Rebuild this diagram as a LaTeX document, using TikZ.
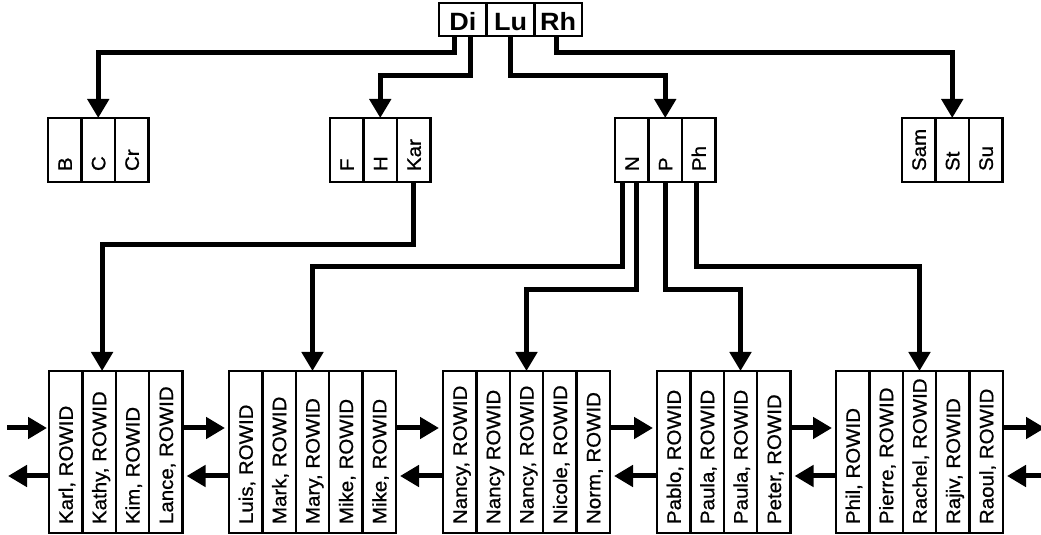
\documentclass[tikz,border=0pt]{standalone}
\usepackage{fontspec}
\usepackage{graphicx}
\setmainfont{Liberation Sans}
\newfontfamily\cellfont{Liberation Sans}[FakeStretch=1.05, FakeBold=0.8]
\newfontfamily\rootfont{Liberation Sans}[FakeStretch=1.08]
\usetikzlibrary{arrows.meta}

% vertical cell text: reads bottom to top, starts at the bottom of a box of length #1
\newcommand\vlabel[2]{\rotatebox{90}{\makebox[#1][l]{\rule[-1.8pt]{0pt}{17.8pt}\smash{#2}}}}

\tikzset{
  cellbase/.style={draw, line width=2.5pt, inner sep=0pt, outer sep=0pt,
    font=\cellfont\fontsize{19.5}{24}\selectfont},
  rootcell/.style={cellbase, minimum width=47.67pt, minimum height=33pt,
    text height=23pt, text depth=0pt,
    font=\rootfont\bfseries\fontsize{25}{30}\selectfont},
  keycell/.style={cellbase, minimum width=33.5pt, minimum height=64pt},
  leafcell/.style={cellbase, minimum width=33.4pt, minimum height=162pt},
  conn/.style={line width=5pt, -{Triangle[width=21pt,length=19pt]}},
  link/.style={conn, shorten >=4pt}
}

\begin{document}
\begin{tikzpicture}[x=1pt,y=1pt]
\fill[white] (0,0) rectangle (1041,535);
\useasboundingbox (0,0) rectangle (1041,535);

% root block
\node[rootcell] (Di) at (462.83,515.5) {Di};
\node[rootcell] (Lu) at (510.5,515.5) {Lu};
\node[rootcell] (Rh) at (558.17,515.5) {Rh};

% branch blocks
\foreach \n/\t [count=\i from 0] in {B/B, C/C, Cr/Cr}
  \node[keycell] (\n) at (64.75+33.5*\i,385) {\vlabel{42pt}{\t}};
\foreach \n/\t [count=\i from 0] in {F/F, H/H, Kar/Kar}
  \node[keycell] (\n) at (346.75+33.5*\i,385) {\vlabel{42pt}{\t}};
\foreach \n/\t [count=\i from 0] in {N/N, P/P, Ph/Ph}
  \node[keycell] (\n) at (631.75+33.5*\i,385) {\vlabel{42pt}{\t}};
\foreach \n/\t [count=\i from 0] in {Sam/Sam, St/St, Su/Su}
  \node[keycell] (\n) at (918.75+33.5*\i,385) {\vlabel{42pt}{\t}};

% leaf blocks
\foreach \n/\t [count=\i from 0] in {karl/Karl, kathy/Kathy, kim/Kim, lance/Lance}
  \node[leafcell] (\n) at (65.7+33.4*\i,83) {\vlabel{144pt}{\t, ROWID}};
\foreach \n/\t [count=\i from 0] in {luis/Luis, mark/Mark, mary/Mary, mikeA/Mike, mikeB/Mike}
  \node[leafcell] (\n) at (245.7+33.4*\i,83) {\vlabel{144pt}{\t, ROWID}};
\foreach \n/\t [count=\i from 0] in {nancyA/{Nancy,}, nancyB/{Nancy}, nancyC/{Nancy,}, nicole/{Nicole,}, norm/{Norm,}}
  \node[leafcell] (\n) at (459.7+33.4*\i,83) {\vlabel{144pt}{\t{} ROWID}};
\foreach \n/\t [count=\i from 0] in {pablo/Pablo, paulaA/Paula, paulaB/Paula, peter/Peter}
  \node[leafcell] (\n) at (673.7+33.4*\i,83) {\vlabel{144pt}{\t, ROWID}};
\foreach \n/\t [count=\i from 0] in {phil/Phil, pierre/Pierre, rachel/Rachel, rajiv/Rajiv, raoul/Raoul}
  \node[leafcell] (\n) at (852.7+33.4*\i,83) {\vlabel{144pt}{\t, ROWID}};

% root to branch blocks
\draw[conn] ([xshift=-8pt]Di.south) -- ++(0,-17) -| (C.north);
\draw[conn] ([xshift=8pt]Di.south) -- ++(0,-40) -| (H.north);
\draw[conn] (Lu.south) -- ++(0,-40) -| (P.north);
\draw[conn] ([xshift=-2pt]Rh.south) -- ++(0,-17) -| (St.north);

% branch to leaf blocks
\draw[conn] (Kar.south) -- ++(0,-63) -| ([xshift=3pt]kathy.north);
\draw[conn] ([xshift=-9pt]N.south) -- ++(0,-85) -| (mary.north);
\draw[conn] ([xshift=5pt]N.south) -- ++(0,-108) -| (nancyC.north);
\draw[conn] (P.south) -- ++(0,-108) -| (paulaB.north);
\draw[conn] ([xshift=-2pt]Ph.south) -- ++(0,-85) -| (rachel.north);

% sibling links between leaf blocks
\coordinate (inL) at (7,107);
\coordinate (outL) at (8,59);
\coordinate (outR) at (1045,107);
\coordinate (inR) at (1047,59);
\draw[conn, shorten >=2pt] (inL) -- ([yshift=24pt]karl.west);
\draw[conn] ([yshift=-24pt]karl.west) -- (outL);
\foreach \a/\b in {lance/luis, mikeB/nancyA, norm/pablo, peter/phil} {
  \draw[link] ([yshift=24pt]\a.east) -- ([yshift=24pt]\b.west);
  \draw[link] ([yshift=-24pt]\b.west) -- ([yshift=-24pt]\a.east);
}
\draw[conn] ([yshift=24pt]raoul.east) -- (outR);
\draw[link] (inR) -- ([yshift=-24pt]raoul.east);
\end{tikzpicture}
\end{document}
